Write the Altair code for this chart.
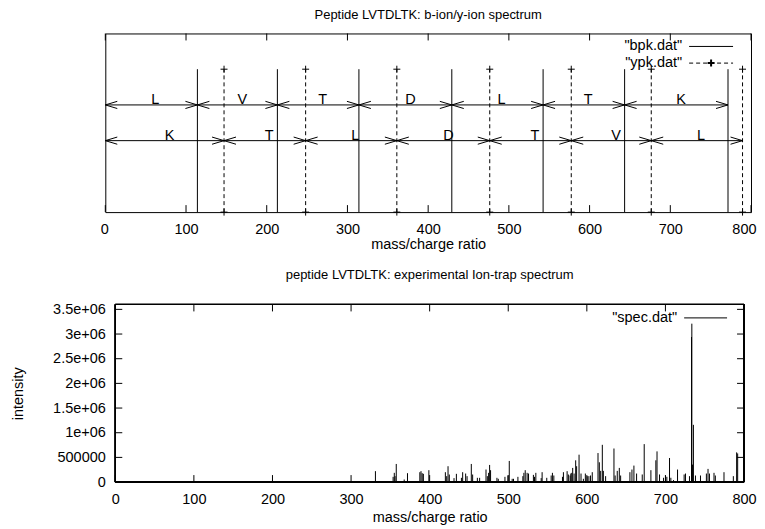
import altair as alt
import pandas as pd

# ---------------- data ----------------
b_ion_mz = [114.1, 213.2, 314.2, 429.3, 542.4, 643.4, 771.5]
y_ion_mz = [147.1, 248.2, 361.2, 476.3, 577.3, 676.4, 789.5]
b_residues = ["L", "V", "T", "D", "L", "T", "K"]
y_residues = ["K", "T", "L", "D", "T", "V", "L"]

spec_mz = [331, 353.5, 355, 356, 357.5, 367.6, 371.8, 387.5, 389, 390.5, 392, 399,
           420, 421.7, 423.4, 425, 431, 434, 440.4, 442, 445.8, 447.6, 453, 454.7,
           460.7, 463.6, 471.7, 473.4, 475, 476.3, 477.5, 485.6, 487.3, 495.8, 499.6,
           501.3, 505, 506.7, 512.3, 518.6, 519.9, 521.6, 524, 525.8, 532, 533.4,
           535.1, 541.9, 543.1, 549, 554.6, 556.2, 558, 569, 570.2, 574.9, 576.5,
           578.7, 579.6, 580.8, 582, 583.8, 585.8, 587, 590.1, 592.6, 595.6, 598.1,
           600.5, 602.6, 604.7, 606.9, 614.2, 615.9, 617.6, 619.7, 621, 623.9, 634.5,
           636, 638.7, 641.3, 643, 654.8, 657.4, 659.9, 663.3, 670.5, 673, 681.5,
           687.8, 689.3, 692.5, 697.6, 700.1, 701.8, 705.2, 706.9, 710.3, 715.4,
           723.8, 725.5, 730.6, 733.2, 733.6, 734.5, 735.6, 738.2, 744.6, 752.1,
           754.2, 756, 761.8, 763.5, 774.5, 786.4, 790.6, 791.9]
spec_intensity = [221000, 106000, 187000, 120000, 367000, 52000, 180000, 200000, 221000,
                  180000, 167000, 241000, 200000, 120000, 321000, 153000, 80000, 167000,
                  86000, 200000, 173000, 120000, 367000, 153000, 86000, 86000, 254000,
                  120000, 187000, 347000, 241000, 86000, 66000, 106000, 133000, 428000,
                  66000, 66000, 106000, 120000, 187000, 241000, 187000, 173000, 146000,
                  106000, 187000, 80000, 200000, 86000, 133000, 187000, 133000, 106000,
                  200000, 221000, 153000, 133000, 173000, 187000, 287000, 173000, 441000,
                  321000, 555000, 173000, 66000, 173000, 120000, 120000, 133000, 200000,
                  588000, 401000, 227000, 755000, 227000, 120000, 680000, 133000, 227000,
                  287000, 133000, 200000, 254000, 334000, 173000, 154000, 769000, 241000,
                  441000, 622000, 154000, 87000, 133000, 107000, 488000, 87000, 40000,
                  254000, 154000, 173000, 120000, 2940000, 3210000, 354000, 1160000,
                  133000, 133000, 173000, 267000, 173000, 187000, 133000, 200000, 120000,
                  602000, 580000]

x_ticks = [0, 100, 200, 300, 400, 500, 600, 700, 800]
y_ticks = [0, 500000, 1000000, 1500000, 2000000, 2500000, 3000000, 3500000]

top_title = "Peptide LVTDLTK: b-ion/y-ion spectrum"
bottom_title = "peptide LVTDLTK: experimental Ion-trap spectrum"
x_title = "mass/charge ratio"
y_title = "intensity"
legend_top = ['"bpk.dat"', '"ypk.dat"']
legend_bottom = ['"spec.dat"']

# ---------------- layout / style ----------------
FONT = "Liberation Sans"
FS = 14.5                  # tick labels, axis titles, keys, residue labels
TFS = 13                   # panel titles
TW, TH = 647, 179          # top plot area
BW, BH = 640, 178          # bottom plot area (frame starts X_OFF px in)
X_OFF = 10
TICK = 7
IMPULSE_H = 1.0
B_ARROW, Y_ARROW = 0.75, 0.5
LEFT_HEAD = "M0,0L1,-0.3M0,0L1,0.3"
RIGHT_HEAD = "M0,0L-1,-0.3M0,0L-1,0.3"
PLUS = "M-1,0L1,0M0,-1L0,1"

# ---------------- top chart ----------------
xs_top = alt.Scale(domain=[0, 800], nice=False, zero=False)
ys_top = alt.Scale(domain=[0, 1.25], nice=False, zero=False)
ax_top = alt.Axis(values=x_ticks, ticks=False, domain=False, grid=False,
                  labelFlush=True, labelFlushOffset=5,
                  labelPadding=10, title=x_title, titlePadding=1.5)


def XT(field):
    return alt.X(field, type="quantitative", scale=xs_top, axis=ax_top)


def YT(field):
    return alt.Y(field, type="quantitative", scale=ys_top, axis=None)


b_df = pd.DataFrame({"mz": b_ion_mz, "lo": 0.0, "hi": IMPULSE_H})
y_df = pd.DataFrame({"mz": y_ion_mz, "lo": 0.0, "hi": IMPULSE_H})
y_pts = pd.DataFrame({"mz": y_ion_mz * 2,
                      "v": [0.0] * len(y_ion_mz) + [IMPULSE_H] * len(y_ion_mz)})

starts_b = [0] + b_ion_mz[:-1]
starts_y = [0] + y_ion_mz[:-1]
arr_df = pd.DataFrame({
    "x0": starts_b + starts_y,
    "x1": b_ion_mz + y_ion_mz,
    "lvl": [B_ARROW] * len(b_ion_mz) + [Y_ARROW] * len(y_ion_mz),
    "lab": b_residues + y_residues,
})
arr_df["mid"] = (arr_df["x0"] + arr_df["x1"]) / 2
tick_df = pd.DataFrame({"v": x_ticks})

b_imp = alt.Chart(b_df).mark_rule(color="black", strokeWidth=1).encode(
    x=XT("mz"), y=YT("lo"), y2="hi")
y_imp = alt.Chart(y_df).mark_rule(color="black", strokeWidth=1, strokeDash=[4, 3]).encode(
    x=XT("mz"), y=YT("lo"), y2="hi")
y_plus = alt.Chart(y_pts).mark_point(shape=PLUS, size=49, filled=False, color="black",
                                     strokeWidth=1, opacity=1).encode(
    x=XT("mz"), y=YT("v"))
arrows = alt.Chart(arr_df).mark_rule(color="black", strokeWidth=1).encode(
    x=XT("x0"), x2="x1", y=YT("lvl"))
lheads = alt.Chart(arr_df).mark_point(shape=LEFT_HEAD, size=576, filled=False,
                                      color="black", strokeWidth=1, opacity=1).encode(
    x=XT("x0"), y=YT("lvl"))
rheads = alt.Chart(arr_df).mark_point(shape=RIGHT_HEAD, size=576, filled=False,
                                      color="black", strokeWidth=1, opacity=1).encode(
    x=XT("x1"), y=YT("lvl"))
labels = alt.Chart(arr_df).mark_text(align="left", baseline="alphabetic", font=FONT,
                                     fontSize=FS, color="black", dy=-1).encode(
    x=XT("mid"), y=YT("lvl"), text="lab:N")
ticks_b = alt.Chart(tick_df).mark_rule(color="black").encode(
    x=XT("v"), y=alt.value(TH), y2=alt.value(TH - TICK))
ticks_t = alt.Chart(tick_df).mark_rule(color="black").encode(
    x=XT("v"), y=alt.value(0), y2=alt.value(TICK))

leg_df = pd.DataFrame({"t": legend_top, "yy": [13, 29.7]})
leg_text = alt.Chart(leg_df).mark_text(align="right", baseline="middle", font=FONT,
                                       fontSize=FS, color="black").encode(
    x=alt.value(TW - 69), y=alt.Y("yy:Q", scale=None), text="t:N")
leg_l1 = alt.Chart(leg_df.iloc[[0]]).mark_rule(color="black").encode(
    x=alt.value(TW - 62), x2=alt.value(TW - 18), y=alt.Y("yy:Q", scale=None))
leg_l2 = alt.Chart(leg_df.iloc[[1]]).mark_rule(color="black", strokeDash=[4, 3]).encode(
    x=alt.value(TW - 62), x2=alt.value(TW - 18), y=alt.Y("yy:Q", scale=None))
leg_p2 = alt.Chart(leg_df.iloc[[1]]).mark_point(shape=PLUS, size=49, filled=False,
                                                color="black", opacity=1).encode(
    x=alt.value(TW - 40), y=alt.Y("yy:Q", scale=None))

top = alt.layer(b_imp, y_imp, y_plus, arrows, lheads, rheads, labels, ticks_b, ticks_t,
                leg_text, leg_l1, leg_l2, leg_p2).properties(
    width=TW, height=TH,
    title=alt.Title(top_title, fontSize=TFS, fontWeight="normal", font=FONT, offset=11))

# ---------------- bottom chart ----------------
xs_bot = alt.Scale(domain=[-800 * X_OFF / (BW - X_OFF), 800], nice=False, zero=False)
ys_bot = alt.Scale(domain=[0, 3600000], nice=False, zero=False)
ax_bx = alt.Axis(values=x_ticks, ticks=False, domain=False, grid=False, labelFlush=False,
                 labelPadding=10, title=x_title, titlePadding=5.5,
                 titleX=X_OFF + (BW - X_OFF) / 2)
ax_by = alt.Axis(values=y_ticks, ticks=False, domain=False, grid=False, labelFlush=False,
                 labelPadding=0, title=y_title, titlePadding=27,
                 labelExpr="datum.value == 0 ? '0' : (datum.value < 1000000 ? format(datum.value, 'd') : replace(format(datum.value, '.2~e'), 'e+', 'e+0'))")


def XB(field):
    return alt.X(field, type="quantitative", scale=xs_bot, axis=ax_bx)


def YB(field):
    return alt.Y(field, type="quantitative", scale=ys_bot, axis=ax_by)


spec_df = pd.DataFrame({"mz": spec_mz, "inten": spec_intensity})
ytick_df = pd.DataFrame({"v": y_ticks})

spec = alt.Chart(spec_df).mark_rule(color="black", strokeWidth=1).encode(
    x=XB("mz"), y=YB("inten"), y2=alt.datum(0))
frame = alt.Chart(tick_df).mark_rect(fillOpacity=0, stroke="black", strokeWidth=1).encode(
    x=alt.X(datum=0, scale=xs_bot, axis=ax_bx), x2=alt.datum(800),
    y=alt.value(0), y2=alt.value(BH))
bt_b = alt.Chart(tick_df).mark_rule(color="black").encode(
    x=XB("v"), y=alt.value(BH), y2=alt.value(BH - TICK))
bt_t = alt.Chart(tick_df).mark_rule(color="black").encode(
    x=XB("v"), y=alt.value(0), y2=alt.value(TICK))
bt_l = alt.Chart(ytick_df).mark_rule(color="black").encode(
    y=YB("v"), x=alt.value(X_OFF), x2=alt.value(X_OFF + TICK))
bt_r = alt.Chart(ytick_df).mark_rule(color="black").encode(
    y=YB("v"), x=alt.value(BW), x2=alt.value(BW - TICK))

bleg_df = pd.DataFrame({"t": legend_bottom, "yy": [13.5]})
bleg_text = alt.Chart(bleg_df).mark_text(align="right", baseline="middle", font=FONT,
                                         fontSize=FS, color="black").encode(
    x=alt.value(BW - 67), y=alt.Y("yy:Q", scale=None), text="t:N")
bleg_line = alt.Chart(bleg_df).mark_rule(color="black").encode(
    x=alt.value(BW - 60), x2=alt.value(BW - 17), y=alt.Y("yy:Q", scale=None))

bottom = alt.layer(spec, frame, bt_b, bt_t, bt_l, bt_r, bleg_text, bleg_line).properties(
    width=BW, height=BH,
    view=alt.ViewBackground(stroke="transparent"),
    title=alt.Title(bottom_title, fontSize=TFS, fontWeight="normal", font=FONT, offset=19,
                    dx=X_OFF / 2))

chart = alt.vconcat(top, bottom, spacing=17.5).properties(
    padding={"left": 1.5, "top": 0, "right": 0, "bottom": 0}
).configure(font=FONT).configure_view(stroke="black", strokeWidth=1).configure_axis(
    labelFont=FONT, titleFont=FONT, labelFontSize=FS, titleFontSize=FS,
    titleFontWeight="normal", labelColor="black", titleColor="black"
).configure_title(color="black", anchor="middle")

chart.save("out.html", embed_options={"renderer": "svg", "actions": False})
